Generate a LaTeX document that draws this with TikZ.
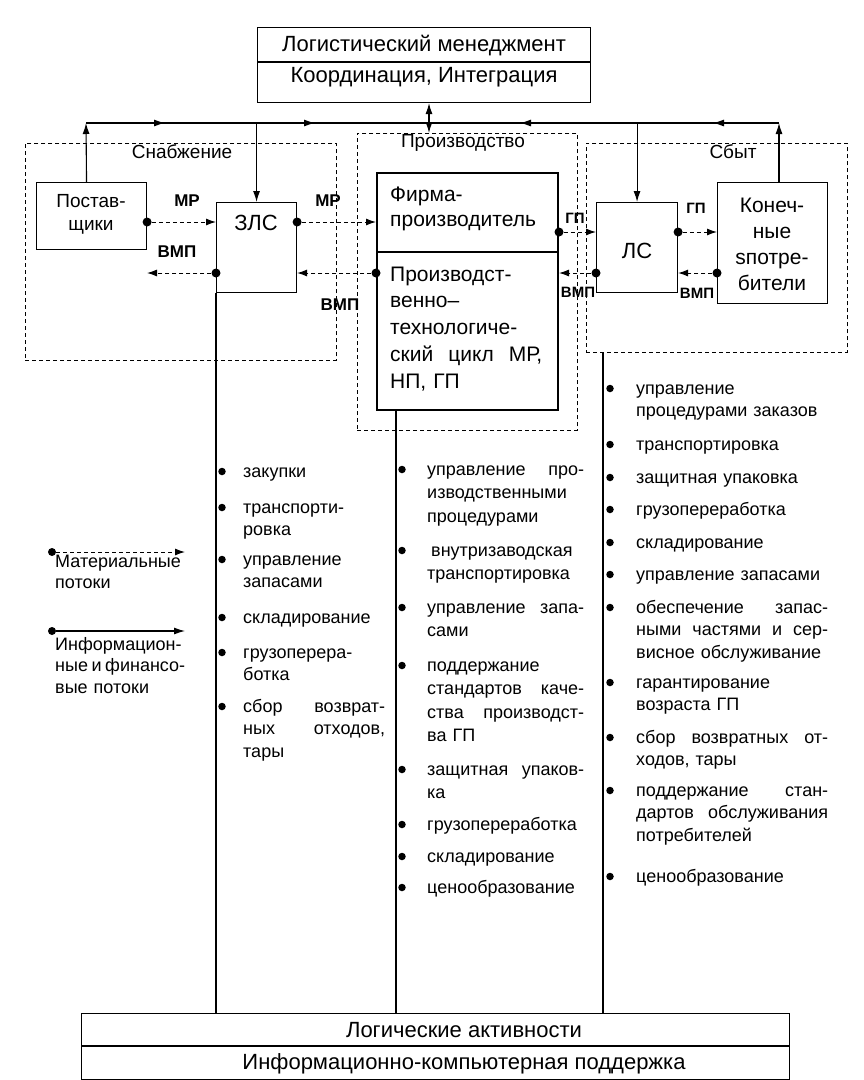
\documentclass[tikz,border=0pt]{standalone}
\usepackage{fontspec}
\setmainfont{Liberation Sans}
\usetikzlibrary{arrows.meta,decorations.markings}
\newcommand\fsz[2]{\fontsize{#1}{#2}\selectfont}
\newcommand\LA[3]{\node[bul] (#1b) at (222,#2-5.5) {}; \node[litem,text width=142pt] (#1) at (243,#2) {#3};}
\newcommand\LB[3]{\node[bul] (#1b) at (402,#2-5.5) {}; \node[mitem,text width=157pt] (#1) at (427,#2) {#3};}
\newcommand\LC[3]{\node[bul] (#1b) at (610,#2-5.5) {}; \node[litem,text width=192pt] (#1) at (636,#2) {#3};}
\begin{document}
\begin{tikzpicture}[x=1pt,y=-1pt,
 box/.style={draw,line width=1.1pt,inner sep=0pt,anchor=north west},
 dbox/.style={draw,dash pattern=on 4pt off 3pt,line width=0.9pt,inner sep=0pt,anchor=north west},
 dot/.style={circle,fill,inner sep=0pt,minimum size=9pt},
 bul/.style={circle,fill,inner sep=0pt,minimum size=7.5pt},
 mflow/.style={dash pattern=on 4pt off 3pt,line width=1pt,-{Latex[length=10pt,width=7pt]}},
 iflow/.style={line width=1.1pt,-{Latex[length=11pt,width=7pt]}},
 lbl/.style={font=\fsz{17}{17}\bfseries,inner sep=0pt,anchor=base},
 slbl/.style={font=\fsz{15}{15}\bfseries,inner sep=0pt,anchor=base},
 txt/.style={inner sep=0pt,anchor=base},
 litem/.style={inner sep=0pt,anchor=base west,align=left,font=\fsz{18}{22.5}},
 mitem/.style={inner sep=0pt,anchor=base west,align=left,font=\fsz{18}{23.5}},
]
\useasboundingbox (0,0) rectangle (864,1080);
\coordinate (m62) at (0,62);
\coordinate (b46) at (0,1046);
\coordinate (f252) at (0,252);
\coordinate (rA) at (0,222);
\coordinate (rB) at (0,273);
\coordinate (rC) at (0,232);
\coordinate (hl) at (86,123);
\coordinate (hr) at (779,123);
\coordinate (bi) at (429,0);

% management box
\node[box,minimum width=333pt,minimum height=75pt] (mgmt) at (257,27) {};
\draw[line width=1.1pt] (mgmt.west |- m62) -- (mgmt.east |- m62);
\node[txt,font=\fsz{22}{22}] (mgmt1) at (424,51) {Логистический менеджмент};
\node[txt,font=\fsz{22}{22}] (mgmt2) at (424,82) {Координация, Интеграция};

% dashed areas
\node[dbox,minimum width=311pt,minimum height=217pt] (snab) at (25,143) {};
\node[dbox,minimum width=220pt,minimum height=297pt] (proizv) at (357,133) {};
\node[dbox,minimum width=261pt,minimum height=209pt] (sbyt) at (586,143) {};
\node[txt,font=\fsz{19}{19}] (snabt) at (182,158) {Снабжение};
\node[txt,font=\fsz{19}{19}] (proizvt) at (463,147) {Производство};
\node[txt,font=\fsz{19}{19}] (sbytt) at (733,158) {Сбыт};

% boxes
\node[box,minimum width=110pt,minimum height=67pt] (sup) at (36,182) {};
\node[txt,align=center,font=\fsz{19}{23}] (supt) at (91,230) {Постав-\\щики};
\node[box,minimum width=80pt,minimum height=90pt] (zls) at (216,202) {};
\node[txt,font=\fsz{22}{22}] (zlst) at (256,230) {ЗЛС};
\node[box,line width=2pt,minimum width=181pt,minimum height=237pt] (firm) at (376,172) {};
\draw[line width=1.1pt] (firm.west |- f252) -- (firm.east |- f252);
\node[inner sep=0pt,anchor=base west,align=left,font=\fsz{21}{25}] (firm1) at (390,226) {Фирма-\\производитель};
\node[inner sep=0pt,anchor=base west,text width=152pt,align=left,font=\fsz{21}{26.8}] (firm2) at (390,281) {Производст-\\венно–\\технологиче-\\ский\hfill цикл\hfill МР,\\НП, ГП};
\node[box,minimum width=81pt,minimum height=90pt] (ls) at (596,202) {};
\node[txt,font=\fsz{22}{22}] (lst) at (637,258) {ЛС};
\node[box,minimum width=110pt,minimum height=121pt] (cons) at (717,182) {};
\node[txt,align=center,font=\fsz{21}{26}] (const) at (772,290) {Конеч-\\ные\\sпотре-\\бители};

% bottom box
\node[box,minimum width=708pt,minimum height=66pt] (bot) at (81,1013) {};
\draw[line width=1.1pt] (bot.west |- b46) -- (bot.east |- b46);
\node[txt,font=\fsz{22}{22}] (bot1) at (464,1037) {Логические активности};
\node[txt,font=\fsz{22}{22}] (bot2) at (464,1069) {Информационно-компьютерная поддержка};

% information lines
\draw[line width=1.1pt,postaction={decorate},decoration={markings,
  mark=at position 79pt with {\arrow{Latex[length=11pt,width=7pt]}},
  mark=at position 229pt with {\arrow{Latex[length=11pt,width=7pt]}},
  mark=at position 434pt with {\arrowreversed{Latex[length=11pt,width=7pt]}},
  mark=at position 627pt with {\arrowreversed{Latex[length=11pt,width=7pt]}}}] (hl) -- (hr);
\draw[iflow] ([xshift=-5pt]sup.north) -- (hl);
\draw[iflow] (hl -| zls.north) -- (zls.north);
\draw[iflow] (hl -| ls.north) -- (ls.north);
\draw[iflow] (cons.north -| hr) -- (hr);
\draw[line width=1.1pt,{Latex[length=11pt,width=7pt]}-{Latex[length=11pt,width=7pt]}] (mgmt.south -| bi) -- (proizv.north -| bi);

% material flows
\node[dot] (d1) at (sup.east |- rA) {};
\draw[mflow] (d1) -- (zls.west |- rA);
\node[dot] (d2) at (zls.west |- rB) {};
\coordinate (e2) at (147,273);
\draw[mflow] (d2) -- (e2);
\node[dot] (d3) at (zls.east |- rA) {};
\draw[mflow] (d3) -- (firm.west |- rA);
\node[dot] (d4) at (firm.west |- rB) {};
\draw[mflow] (d4) -- (zls.east |- rB);
\node[dot] (d5) at (firm.east |- rC) {};
\draw[mflow] (d5) -- (ls.west |- rC);
\node[dot] (d6) at (ls.west |- rB) {};
\draw[mflow] (d6) -- (firm.east |- rB);
\node[dot] (d7) at (ls.east |- rC) {};
\draw[mflow] (d7) -- (cons.west |- rC);
\node[dot] (d8) at (cons.west |- rB) {};
\draw[mflow] (d8) -- (ls.east |- rB);

% flow labels
\node[lbl] (l1) at (187,206) {МР};
\node[lbl] (l2) at (177,257) {ВМП};
\node[lbl] (l3) at (328,206) {МР};
\node[lbl] (l4) at (340,310) {ВМП};
\node[slbl] (l5) at (575,223) {ГП};
\node[slbl] (l6) at (578,297) {ВМП};
\node[slbl] (l7) at (696,213) {ГП};
\node[slbl] (l8) at (697,298) {ВМП};

% vertical lines to the bottom box
\draw[line width=1.1pt] (zls.south west) -- (zls.south west |- bot.north);
\draw[line width=1.1pt] ([xshift=20pt]firm.south west) -- ([xshift=20pt]firm.south west |- bot.north);
\draw[line width=1.1pt] ([xshift=17pt]sbyt.south west) -- ([xshift=17pt]sbyt.south west |- bot.north);

% legend
\node[dot,minimum size=8pt] (lg1) at (52,552) {};
\coordinate (lg1e) at (185,552);
\draw[mflow] (lg1) -- (lg1e);
\node[litem,text width=130pt,font=\fsz{18}{21}] (lg1t) at (55,567) {Материальные\\потоки};
\node[dot,minimum size=8pt] (lg2) at (52,631) {};
\coordinate (lg2e) at (185,631);
\draw[iflow] (lg2) -- (lg2e);
\node[litem,text width=130pt,font=\fsz{18}{21.5}] (lg2t) at (55,650) {Информацион-\\ные\hfill и\hfill финансо-\\вые потоки};

% lists
\LA{a1}{477}{закупки}
\LA{a2}{513}{транспорти-\\ровка}
\LA{a3}{565}{управление\\запасами}
\LA{a4}{623}{складирование}
\LA{a5}{658}{грузоперера-\\ботка}
\LA{a6}{712}{сбор\hfill возврат-\\ных\hfill отходов,\\тары}

\LB{b1}{475}{управление\hfill про-\\изводственными\\процедурами}
\LB{b2}{556}{\hspace*{4pt}внутризаводская\\транспортировка}
\LB{b3}{613}{управление\hfill запа-\\сами}
\LB{b4}{671}{поддержание\\стандартов\hfill каче-\\ства\hfill производст-\\ва ГП}
\LB{b5}{775}{защитная\hfill упаков-\\ка}
\LB{b6}{830}{грузопереработка}
\LB{b7}{862}{складирование}
\LB{b8}{893}{ценообразование}

\LC{c1}{394}{управление\\процедурами заказов}
\LC{c2}{450}{транспортировка}
\LC{c3}{483}{защитная упаковка}
\LC{c4}{515}{грузопереработка}
\LC{c5}{548}{складирование}
\LC{c6}{580}{управление запасами}
\LC{c7}{613}{обеспечение\hfill запас-\\ными\hfill частями\hfill и\hfill сер-\\висное обслуживание}
\LC{c8}{688}{гарантирование\\возраста ГП}
\LC{c9}{743}{сбор\hfill возвратных\hfill от-\\ходов, тары}
\LC{c10}{796}{поддержание\hfill стан-\\дартов\hfill обслуживания\\потребителей}
\LC{c11}{882}{ценообразование}
\end{tikzpicture}
\end{document}
